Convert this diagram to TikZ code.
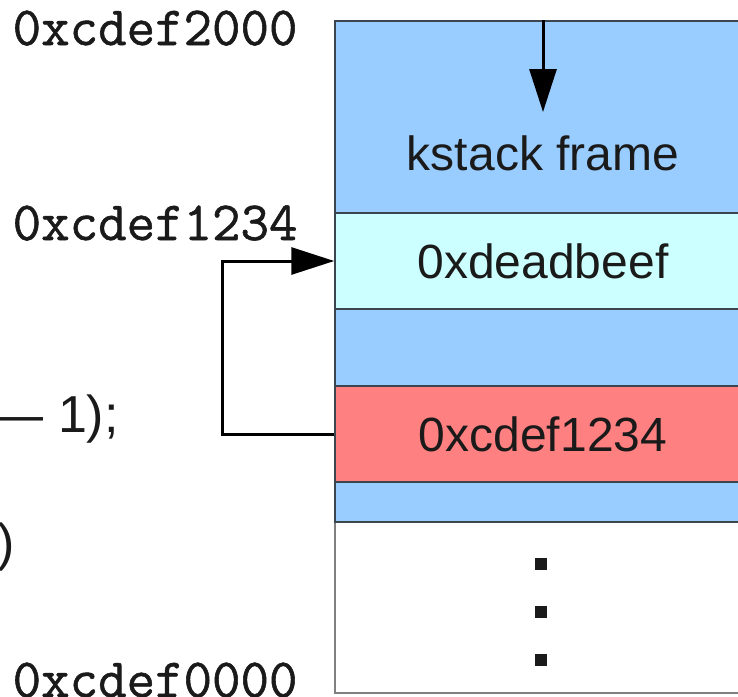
\documentclass[tikz,border=0pt]{standalone}
\usepackage{fontspec}
\setmainfont{Liberation Sans}
\newfontfamily\addrfont[FakeBold=1]{Latin Modern Mono}
\usetikzlibrary{arrows.meta}
\definecolor{stackblue}{HTML}{99CCFF}
\definecolor{stackcyan}{HTML}{CCFFFF}
\definecolor{stackred}{HTML}{FF8080}
\definecolor{cellline}{HTML}{3A4550}
\definecolor{freeline}{HTML}{808080}
\definecolor{ink}{HTML}{1A1A1A}
\begin{document}
\begin{tikzpicture}[x=1pt,y=-1pt,
  cell/.style={draw=cellline,line width=1.5pt,minimum width=416pt,inner sep=0pt,
    text=ink,font=\fontsize{48}{58}\selectfont},
  addr/.style={anchor=base west,inner sep=0pt,text=ink,
    font=\addrfont\fontsize{55.3}{60}\selectfont},
  code/.style={inner sep=0pt,text=ink,font=\fontsize{52}{60}\selectfont},
  conn/.style={line width=3pt,draw=black},
  bighead/.style={-{Triangle[length=43pt,width=27pt]}},
  dotbox/.style={fill=ink,minimum size=12pt,inner sep=0pt}]
\useasboundingbox (0,0) rectangle (738,696);
\clip (0,0) rectangle (738,696);
% stack cells
\node[cell,fill=white,draw=freeline,minimum height=171pt] (free) at (543,607.5) {};
\node[cell,fill=stackblue,minimum height=192pt] (kframe) at (543,117) {};
\node[cell,fill=stackcyan,minimum height=96pt] (dead) at (543,261) {0xdeadbeef};
\node[cell,fill=stackblue,minimum height=77pt] (gap) at (543,347.5) {};
\node[cell,fill=stackred,minimum height=96pt] (ret) at (543,434) {0xcdef1234};
\node[cell,fill=stackblue,minimum height=40pt] (below) at (543,502) {};
\node[inner sep=0pt,text=ink,font=\fontsize{48}{58}\selectfont] (klabel) at (543,153) {kstack frame};
% dots
\node[dotbox] (dot1) at (541,564) {};
\node[dotbox] (dot2) at (541,612) {};
\node[dotbox] (dot3) at (541,660) {};
% address labels
\node[addr] (a2000) at (12.5,45) {0xcdef2000};
\node[addr] (a1234) at (12.5,240) {0xcdef1234};
\node[addr] (a0000) at (12.5,697) {0xcdef0000};
% code fragments
\node[code,anchor=base east] (code1) at (119,432) {— 1);};
\node[code,anchor=base west] (code2) at (-3,560) {)};
% arrows
\coordinate (ktip) at (543,112);
\draw[conn,bighead] (kframe.north) -- (ktip);
\coordinate (bend) at (222,434);
\draw[conn,bighead] (ret.west) -- (bend) |- (dead.west);
\end{tikzpicture}
\end{document}
